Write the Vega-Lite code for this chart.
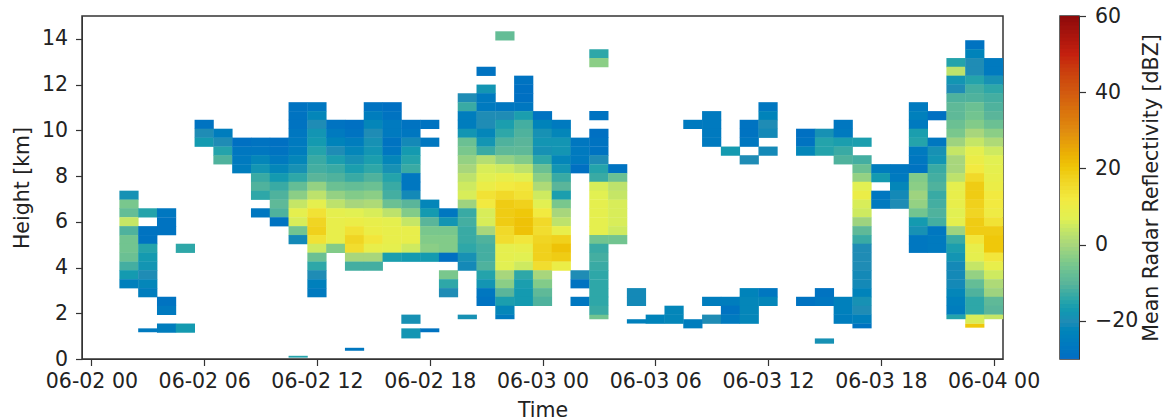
{"$schema":"https://vega.github.io/schema/vega-lite/v6.json","padding":{"left":11,"top":5,"right":0,"bottom":0},"background":"white","config":{"font":"DejaVu Sans","view":{"stroke":"#333","strokeWidth":1.5},"axis":{"labelFont":"DejaVu Sans","titleFont":"DejaVu Sans","labelFontSize":20.5,"titleFontSize":20.5,"labelColor":"#222","titleColor":"#222","titleFontWeight":"normal","tickColor":"#333","domainColor":"#333","tickSize":6.5,"tickWidth":1.2,"labelPadding":8,"grid":false}},"spacing":18,"datasets":{"cells":[
{"t":2,"z":7.16,"v":-19},{"t":2,"z":6.77,"v":-5},{"t":2,"z":6.39,"v":-8},{"t":2,"z":6,"v":4},{"t":2,"z":5.61,"v":-11},{"t":2,"z":5.22,"v":-6},{"t":2,"z":4.84,"v":-6},{"t":2,"z":4.45,"v":-7},{"t":2,"z":4.06,"v":-12},{"t":2,"z":3.68,"v":-17},{"t":2,"z":3.29,"v":-24},
{"t":3,"z":6.39,"v":-15},{"t":3,"z":5.61,"v":-28},{"t":3,"z":5.22,"v":-28},{"t":3,"z":4.84,"v":-15},{"t":3,"z":4.45,"v":-17},{"t":3,"z":4.06,"v":-18},{"t":3,"z":3.68,"v":-20},{"t":3,"z":3.29,"v":-22},{"t":3,"z":2.9,"v":-25},
{"t":4,"z":6.39,"v":-27},{"t":4,"z":6,"v":-28},{"t":4,"z":5.61,"v":-28},{"t":4,"z":2.52,"v":-28},{"t":4,"z":2.13,"v":-26},{"t":4,"z":1.35,"v":-25},
{"t":5,"z":4.84,"v":-14},{"t":5,"z":1.35,"v":-17},
{"t":6,"z":10.26,"v":-28},{"t":6,"z":9.87,"v":-20},{"t":6,"z":9.48,"v":-17},
{"t":7,"z":9.87,"v":-25},{"t":7,"z":9.48,"v":-20},{"t":7,"z":9.09,"v":-15},{"t":7,"z":8.71,"v":-11},
{"t":8,"z":9.48,"v":-29},{"t":8,"z":9.09,"v":-27},{"t":8,"z":8.71,"v":-26},{"t":8,"z":8.32,"v":-25},
{"t":9,"z":9.48,"v":-28},{"t":9,"z":9.09,"v":-27},{"t":9,"z":8.71,"v":-22},{"t":9,"z":8.32,"v":-18},{"t":9,"z":7.93,"v":-13},{"t":9,"z":7.55,"v":-11},{"t":9,"z":7.16,"v":-14},{"t":9,"z":6.39,"v":-27},
{"t":10,"z":9.48,"v":-29},{"t":10,"z":9.09,"v":-28},{"t":10,"z":8.71,"v":-26},{"t":10,"z":8.32,"v":-22},{"t":10,"z":7.93,"v":-17},{"t":10,"z":7.55,"v":-13},{"t":10,"z":7.16,"v":-11},{"t":10,"z":6.77,"v":-9},{"t":10,"z":6.39,"v":-11},{"t":10,"z":6,"v":-28},
{"t":11,"z":11.03,"v":-28},{"t":11,"z":10.64,"v":-28},{"t":11,"z":10.26,"v":-28},{"t":11,"z":9.87,"v":-27},{"t":11,"z":9.48,"v":-26},{"t":11,"z":9.09,"v":-25},{"t":11,"z":8.71,"v":-22},{"t":11,"z":8.32,"v":-19},{"t":11,"z":7.93,"v":-14},{"t":11,"z":7.55,"v":-8},{"t":11,"z":7.16,"v":-3},{"t":11,"z":6.77,"v":4},{"t":11,"z":6.39,"v":8},{"t":11,"z":6,"v":6},{"t":11,"z":5.61,"v":-6},{"t":11,"z":5.22,"v":-21},
{"t":12,"z":11.03,"v":-27},{"t":12,"z":10.64,"v":-22},{"t":12,"z":10.26,"v":-20},{"t":12,"z":9.87,"v":-18},{"t":12,"z":9.48,"v":-17},{"t":12,"z":9.09,"v":-15},{"t":12,"z":8.71,"v":-13},{"t":12,"z":8.32,"v":-12},{"t":12,"z":7.93,"v":-10},{"t":12,"z":7.55,"v":-2},{"t":12,"z":7.16,"v":3},{"t":12,"z":6.77,"v":8},{"t":12,"z":6.39,"v":14},{"t":12,"z":6,"v":17},{"t":12,"z":5.61,"v":18},{"t":12,"z":5.22,"v":14},{"t":12,"z":4.84,"v":5},{"t":12,"z":4.45,"v":-7},{"t":12,"z":4.06,"v":-14},{"t":12,"z":3.68,"v":-20},{"t":12,"z":3.29,"v":-24},{"t":12,"z":2.9,"v":-26},
{"t":13,"z":10.26,"v":-28},{"t":13,"z":9.87,"v":-26},{"t":13,"z":9.48,"v":-23},{"t":13,"z":9.09,"v":-20},{"t":13,"z":8.71,"v":-16},{"t":13,"z":8.32,"v":-13},{"t":13,"z":7.93,"v":-11},{"t":13,"z":7.55,"v":-7},{"t":13,"z":7.16,"v":-2},{"t":13,"z":6.77,"v":3},{"t":13,"z":6.39,"v":8},{"t":13,"z":6,"v":9},{"t":13,"z":5.61,"v":9},{"t":13,"z":5.22,"v":9},{"t":13,"z":4.84,"v":-4},
{"t":14,"z":10.26,"v":-29},{"t":14,"z":9.87,"v":-28},{"t":14,"z":9.48,"v":-25},{"t":14,"z":9.09,"v":-22},{"t":14,"z":8.71,"v":-19},{"t":14,"z":8.32,"v":-16},{"t":14,"z":7.93,"v":-13},{"t":14,"z":7.55,"v":-8},{"t":14,"z":7.16,"v":-4},{"t":14,"z":6.77,"v":0},{"t":14,"z":6.39,"v":7},{"t":14,"z":6,"v":10},{"t":14,"z":5.61,"v":14},{"t":14,"z":5.22,"v":17},{"t":14,"z":4.84,"v":15},{"t":14,"z":4.45,"v":0},{"t":14,"z":4.06,"v":-12},
{"t":15,"z":11.03,"v":-28},{"t":15,"z":10.64,"v":-25},{"t":15,"z":10.26,"v":-22},{"t":15,"z":9.87,"v":-20},{"t":15,"z":9.48,"v":-19},{"t":15,"z":9.09,"v":-18},{"t":15,"z":8.71,"v":-16},{"t":15,"z":8.32,"v":-14},{"t":15,"z":7.93,"v":-11},{"t":15,"z":7.55,"v":-7},{"t":15,"z":7.16,"v":-3},{"t":15,"z":6.77,"v":1},{"t":15,"z":6.39,"v":6},{"t":15,"z":6,"v":9},{"t":15,"z":5.61,"v":10},{"t":15,"z":5.22,"v":13},{"t":15,"z":4.84,"v":9},{"t":15,"z":4.45,"v":0},{"t":15,"z":4.06,"v":-12},
{"t":16,"z":11.03,"v":-29},{"t":16,"z":10.64,"v":-28},{"t":16,"z":10.26,"v":-26},{"t":16,"z":9.87,"v":-26},{"t":16,"z":9.48,"v":-28},{"t":16,"z":9.09,"v":-27},{"t":16,"z":8.71,"v":-22},{"t":16,"z":8.32,"v":-19},{"t":16,"z":7.93,"v":-15},{"t":16,"z":7.55,"v":-13},{"t":16,"z":7.16,"v":-12},{"t":16,"z":6.77,"v":-7},{"t":16,"z":6.39,"v":3},{"t":16,"z":6,"v":8},{"t":16,"z":5.61,"v":9},{"t":16,"z":5.22,"v":9},{"t":16,"z":4.84,"v":8},{"t":16,"z":4.45,"v":-16},
{"t":17,"z":10.26,"v":-28},{"t":17,"z":9.87,"v":-27},{"t":17,"z":9.48,"v":-21},{"t":17,"z":9.09,"v":-17},{"t":17,"z":8.71,"v":-15},{"t":17,"z":8.32,"v":-13},{"t":17,"z":7.93,"v":-27},{"t":17,"z":7.55,"v":-27},{"t":17,"z":7.16,"v":-21},{"t":17,"z":6.77,"v":-10},{"t":17,"z":6.39,"v":-4},{"t":17,"z":6,"v":4},{"t":17,"z":5.61,"v":9},{"t":17,"z":5.22,"v":9},{"t":17,"z":4.84,"v":5},{"t":17,"z":4.45,"v":-17},{"t":17,"z":1.74,"v":-19},
{"t":18,"z":10.26,"v":-28},{"t":18,"z":9.48,"v":-27},{"t":18,"z":6.77,"v":-22},{"t":18,"z":6.39,"v":-17},{"t":18,"z":6,"v":-10},{"t":18,"z":5.61,"v":-5},{"t":18,"z":5.22,"v":-4},{"t":18,"z":4.84,"v":-3},{"t":18,"z":4.45,"v":-17},
{"t":19,"z":6.39,"v":-27},{"t":19,"z":6,"v":-18},{"t":19,"z":5.61,"v":-5},{"t":19,"z":5.22,"v":-4},{"t":19,"z":4.84,"v":-4},{"t":19,"z":4.45,"v":-29},{"t":19,"z":3.68,"v":-5},{"t":19,"z":3.29,"v":-14},{"t":19,"z":2.9,"v":-20},
{"t":20,"z":11.42,"v":-20},{"t":20,"z":11.03,"v":-13},{"t":20,"z":10.64,"v":-25},{"t":20,"z":10.26,"v":-25},{"t":20,"z":9.87,"v":-18},{"t":20,"z":9.48,"v":-7},{"t":20,"z":9.09,"v":-5},{"t":20,"z":8.71,"v":-2},{"t":20,"z":8.32,"v":0},{"t":20,"z":7.93,"v":3},{"t":20,"z":7.55,"v":5},{"t":20,"z":7.16,"v":6},{"t":20,"z":6.77,"v":-1},{"t":20,"z":6.39,"v":-13},{"t":20,"z":6,"v":-12},{"t":20,"z":5.61,"v":-13},{"t":20,"z":5.22,"v":-13},{"t":20,"z":4.84,"v":-14},{"t":20,"z":4.45,"v":-19},{"t":20,"z":4.06,"v":-21},
{"t":21,"z":12.58,"v":-28},{"t":21,"z":11.8,"v":-18},{"t":21,"z":11.42,"v":-26},{"t":21,"z":11.03,"v":-26},{"t":21,"z":10.64,"v":-20},{"t":21,"z":10.26,"v":-20},{"t":21,"z":9.87,"v":-22},{"t":21,"z":9.48,"v":-18},{"t":21,"z":9.09,"v":-13},{"t":21,"z":8.71,"v":2},{"t":21,"z":8.32,"v":6},{"t":21,"z":7.93,"v":7},{"t":21,"z":7.55,"v":10},{"t":21,"z":7.16,"v":14},{"t":21,"z":6.77,"v":12},{"t":21,"z":6.39,"v":6},{"t":21,"z":6,"v":6},{"t":21,"z":5.61,"v":0},{"t":21,"z":5.22,"v":-11},{"t":21,"z":4.84,"v":-12},{"t":21,"z":4.45,"v":-12},{"t":21,"z":4.06,"v":-11},{"t":21,"z":3.68,"v":-15},{"t":21,"z":3.29,"v":-18},{"t":21,"z":2.9,"v":-27},{"t":21,"z":2.52,"v":-28},
{"t":22,"z":14.13,"v":-8},{"t":22,"z":11.03,"v":-27},{"t":22,"z":10.64,"v":-20},{"t":22,"z":10.26,"v":-16},{"t":22,"z":9.87,"v":-14},{"t":22,"z":9.48,"v":-11},{"t":22,"z":9.09,"v":-9},{"t":22,"z":8.71,"v":-2},{"t":22,"z":8.32,"v":5},{"t":22,"z":7.93,"v":9},{"t":22,"z":7.55,"v":12},{"t":22,"z":7.16,"v":16},{"t":22,"z":6.77,"v":19},{"t":22,"z":6.39,"v":19},{"t":22,"z":6,"v":19},{"t":22,"z":5.61,"v":16},{"t":22,"z":5.22,"v":15},{"t":22,"z":4.84,"v":8},{"t":22,"z":4.45,"v":8},{"t":22,"z":4.06,"v":7},{"t":22,"z":3.68,"v":0},{"t":22,"z":3.29,"v":-3},{"t":22,"z":2.9,"v":-10},{"t":22,"z":2.52,"v":-16},{"t":22,"z":2.13,"v":-22},
{"t":23,"z":12.19,"v":-28},{"t":23,"z":11.8,"v":-29},{"t":23,"z":11.42,"v":-29},{"t":23,"z":11.03,"v":-27},{"t":23,"z":10.64,"v":-16},{"t":23,"z":10.26,"v":-12},{"t":23,"z":9.87,"v":-11},{"t":23,"z":9.48,"v":-10},{"t":23,"z":9.09,"v":-9},{"t":23,"z":8.71,"v":-4},{"t":23,"z":8.32,"v":3},{"t":23,"z":7.93,"v":7},{"t":23,"z":7.55,"v":13},{"t":23,"z":7.16,"v":14},{"t":23,"z":6.77,"v":18},{"t":23,"z":6.39,"v":20},{"t":23,"z":6,"v":21},{"t":23,"z":5.61,"v":21},{"t":23,"z":5.22,"v":13},{"t":23,"z":4.84,"v":9},{"t":23,"z":4.45,"v":7},{"t":23,"z":4.06,"v":5},{"t":23,"z":3.68,"v":-14},{"t":23,"z":3.29,"v":-16},{"t":23,"z":2.9,"v":-17},{"t":23,"z":2.52,"v":-17},
{"t":24,"z":10.64,"v":-28},{"t":24,"z":10.26,"v":-23},{"t":24,"z":9.87,"v":-19},{"t":24,"z":9.48,"v":-18},{"t":24,"z":9.09,"v":-19},{"t":24,"z":8.71,"v":-14},{"t":24,"z":8.32,"v":-7},{"t":24,"z":7.93,"v":-3},{"t":24,"z":7.55,"v":1},{"t":24,"z":7.16,"v":5},{"t":24,"z":6.77,"v":7},{"t":24,"z":6.39,"v":12},{"t":24,"z":6,"v":16},{"t":24,"z":5.61,"v":15},{"t":24,"z":5.22,"v":17},{"t":24,"z":4.84,"v":18},{"t":24,"z":4.45,"v":18},{"t":24,"z":4.06,"v":15},{"t":24,"z":3.68,"v":0},{"t":24,"z":3.29,"v":-4},{"t":24,"z":2.9,"v":-9},{"t":24,"z":2.52,"v":-11},
{"t":25,"z":10.26,"v":-26},{"t":25,"z":9.87,"v":-22},{"t":25,"z":9.48,"v":-18},{"t":25,"z":9.09,"v":-18},{"t":25,"z":8.71,"v":-22},{"t":25,"z":8.32,"v":-18},{"t":25,"z":7.93,"v":-13},{"t":25,"z":7.55,"v":-10},{"t":25,"z":7.16,"v":-16},{"t":25,"z":6.77,"v":-5},{"t":25,"z":6.39,"v":0},{"t":25,"z":6,"v":3},{"t":25,"z":5.61,"v":9},{"t":25,"z":5.22,"v":18},{"t":25,"z":4.84,"v":21},{"t":25,"z":4.45,"v":19},{"t":25,"z":4.06,"v":10},
{"t":26,"z":9.48,"v":-27},{"t":26,"z":9.09,"v":-26},{"t":26,"z":8.71,"v":-26},{"t":26,"z":8.32,"v":-29},{"t":26,"z":3.68,"v":-20},{"t":26,"z":3.29,"v":-28},{"t":26,"z":2.52,"v":-27},
{"t":27,"z":13.35,"v":-14},{"t":27,"z":12.96,"v":-3},{"t":27,"z":10.64,"v":-28},{"t":27,"z":9.87,"v":-29},{"t":27,"z":9.48,"v":-28},{"t":27,"z":9.09,"v":-28},{"t":27,"z":8.71,"v":-20},{"t":27,"z":8.32,"v":-15},{"t":27,"z":7.93,"v":-13},{"t":27,"z":7.55,"v":6},{"t":27,"z":7.16,"v":7},{"t":27,"z":6.77,"v":8},{"t":27,"z":6.39,"v":8},{"t":27,"z":6,"v":8},{"t":27,"z":5.61,"v":8},{"t":27,"z":5.22,"v":-6},{"t":27,"z":4.84,"v":-13},{"t":27,"z":4.45,"v":-12},{"t":27,"z":4.06,"v":-13},{"t":27,"z":3.68,"v":-14},{"t":27,"z":3.29,"v":-14},{"t":27,"z":2.9,"v":-14},{"t":27,"z":2.52,"v":-14},{"t":27,"z":2.13,"v":-13},
{"t":28,"z":8.32,"v":-28},{"t":28,"z":7.93,"v":-7},{"t":28,"z":7.55,"v":3},{"t":28,"z":7.16,"v":4},{"t":28,"z":6.77,"v":6},{"t":28,"z":6.39,"v":6},{"t":28,"z":6,"v":6},{"t":28,"z":5.61,"v":5},{"t":28,"z":5.22,"v":-6},
{"t":29,"z":2.9,"v":-21},{"t":29,"z":2.52,"v":-21},
{"t":30,"z":1.74,"v":-23},
{"t":31,"z":2.13,"v":-22},{"t":31,"z":1.74,"v":-22},
{"t":32,"z":10.26,"v":-26},
{"t":33,"z":10.64,"v":-26},{"t":33,"z":10.26,"v":-26},{"t":33,"z":9.87,"v":-26},{"t":33,"z":9.48,"v":-26},{"t":33,"z":2.52,"v":-25},{"t":33,"z":1.74,"v":-20},
{"t":34,"z":9.09,"v":-17},{"t":34,"z":2.52,"v":-25},{"t":34,"z":2.13,"v":-28},{"t":34,"z":1.74,"v":-26},
{"t":35,"z":10.26,"v":-28},{"t":35,"z":9.87,"v":-28},{"t":35,"z":9.48,"v":-27},{"t":35,"z":8.71,"v":-20},{"t":35,"z":2.9,"v":-23},{"t":35,"z":2.52,"v":-22},{"t":35,"z":2.13,"v":-22},{"t":35,"z":1.74,"v":-22},
{"t":36,"z":11.03,"v":-27},{"t":36,"z":10.64,"v":-23},{"t":36,"z":10.26,"v":-20},{"t":36,"z":9.87,"v":-21},{"t":36,"z":9.09,"v":-21},{"t":36,"z":2.9,"v":-27},{"t":36,"z":2.52,"v":-22},
{"t":38,"z":9.87,"v":-29},{"t":38,"z":9.48,"v":-28},{"t":38,"z":9.09,"v":-22},{"t":38,"z":2.52,"v":-28},
{"t":39,"z":9.87,"v":-19},{"t":39,"z":9.48,"v":-15},{"t":39,"z":9.09,"v":-15},{"t":39,"z":2.9,"v":-28},{"t":39,"z":2.52,"v":-27},
{"t":40,"z":10.26,"v":-27},{"t":40,"z":9.87,"v":-26},{"t":40,"z":9.48,"v":-16},{"t":40,"z":9.09,"v":-13},{"t":40,"z":8.71,"v":-11},{"t":40,"z":2.52,"v":-24},{"t":40,"z":2.13,"v":-24},{"t":40,"z":1.74,"v":-25},
{"t":41,"z":9.48,"v":-16},{"t":41,"z":8.71,"v":-12},{"t":41,"z":8.32,"v":-7},{"t":41,"z":7.93,"v":-2},{"t":41,"z":7.55,"v":7},{"t":41,"z":7.16,"v":10},{"t":41,"z":6.77,"v":6},{"t":41,"z":6.39,"v":5},{"t":41,"z":6,"v":-1},{"t":41,"z":5.61,"v":-9},{"t":41,"z":5.22,"v":-13},{"t":41,"z":4.84,"v":-20},{"t":41,"z":4.45,"v":-20},{"t":41,"z":4.06,"v":-20},{"t":41,"z":3.68,"v":-21},{"t":41,"z":3.29,"v":-21},{"t":41,"z":2.9,"v":-23},{"t":41,"z":2.52,"v":-19},{"t":41,"z":2.13,"v":-20},{"t":41,"z":1.74,"v":-24},
{"t":42,"z":8.32,"v":-25},{"t":42,"z":7.93,"v":-17},{"t":42,"z":7.16,"v":-27},{"t":42,"z":6.77,"v":-26},
{"t":43,"z":8.32,"v":-27},{"t":43,"z":7.93,"v":-26},{"t":43,"z":7.55,"v":-22},{"t":43,"z":7.16,"v":-21},{"t":43,"z":6.77,"v":-20},
{"t":44,"z":11.03,"v":-26},{"t":44,"z":10.64,"v":-24},{"t":44,"z":10.26,"v":-26},{"t":44,"z":9.87,"v":-16},{"t":44,"z":9.48,"v":-15},{"t":44,"z":9.09,"v":-26},{"t":44,"z":8.71,"v":-27},{"t":44,"z":8.32,"v":-28},{"t":44,"z":7.93,"v":-4},{"t":44,"z":7.55,"v":-3},{"t":44,"z":7.16,"v":-1},{"t":44,"z":6.77,"v":-2},{"t":44,"z":6.39,"v":-6},{"t":44,"z":6,"v":-17},{"t":44,"z":5.61,"v":-19},{"t":44,"z":5.22,"v":-27},{"t":44,"z":4.84,"v":-27},
{"t":45,"z":10.64,"v":-29},{"t":45,"z":9.48,"v":-27},{"t":45,"z":9.09,"v":-19},{"t":45,"z":8.71,"v":-18},{"t":45,"z":8.32,"v":-13},{"t":45,"z":7.93,"v":-12},{"t":45,"z":7.55,"v":-11},{"t":45,"z":7.16,"v":-13},{"t":45,"z":6.77,"v":-12},{"t":45,"z":6.39,"v":-11},{"t":45,"z":6,"v":-12},{"t":45,"z":5.61,"v":-27},{"t":45,"z":5.22,"v":-26},{"t":45,"z":4.84,"v":-26},
{"t":46,"z":12.96,"v":-15},{"t":46,"z":12.58,"v":3},{"t":46,"z":12.19,"v":-18},{"t":46,"z":11.8,"v":-20},{"t":46,"z":11.42,"v":-11},{"t":46,"z":11.03,"v":-9},{"t":46,"z":10.64,"v":-9},{"t":46,"z":10.26,"v":-7},{"t":46,"z":9.87,"v":-5},{"t":46,"z":9.48,"v":-1},{"t":46,"z":9.09,"v":4},{"t":46,"z":8.71,"v":0},{"t":46,"z":8.32,"v":0},{"t":46,"z":7.93,"v":3},{"t":46,"z":7.55,"v":8},{"t":46,"z":7.16,"v":9},{"t":46,"z":6.77,"v":9},{"t":46,"z":6.39,"v":7},{"t":46,"z":6,"v":8},{"t":46,"z":5.61,"v":-1},{"t":46,"z":5.22,"v":-13},{"t":46,"z":4.84,"v":-16},{"t":46,"z":4.45,"v":-18},{"t":46,"z":4.06,"v":-21},{"t":46,"z":3.68,"v":-21},{"t":46,"z":3.29,"v":-21},{"t":46,"z":2.9,"v":-22},{"t":46,"z":2.52,"v":-24},{"t":46,"z":2.13,"v":-25},
{"t":47,"z":13.74,"v":-28},{"t":47,"z":13.35,"v":-23},{"t":47,"z":12.96,"v":-20},{"t":47,"z":12.58,"v":-20},{"t":47,"z":12.19,"v":-15},{"t":47,"z":11.8,"v":-12},{"t":47,"z":11.42,"v":-11},{"t":47,"z":11.03,"v":-7},{"t":47,"z":10.64,"v":-6},{"t":47,"z":10.26,"v":-4},{"t":47,"z":9.87,"v":0},{"t":47,"z":9.48,"v":4},{"t":47,"z":9.09,"v":8},{"t":47,"z":8.71,"v":10},{"t":47,"z":8.32,"v":12},{"t":47,"z":7.93,"v":16},{"t":47,"z":7.55,"v":19},{"t":47,"z":7.16,"v":19},{"t":47,"z":6.77,"v":18},{"t":47,"z":6.39,"v":17},{"t":47,"z":6,"v":19},{"t":47,"z":5.61,"v":19},{"t":47,"z":5.22,"v":13},{"t":47,"z":4.84,"v":9},{"t":47,"z":4.45,"v":8},{"t":47,"z":4.06,"v":4},{"t":47,"z":3.68,"v":-2},{"t":47,"z":3.29,"v":-8},{"t":47,"z":2.9,"v":-11},{"t":47,"z":2.52,"v":-14},{"t":47,"z":2.13,"v":-14},{"t":47,"z":1.74,"v":6},
{"t":48,"z":12.96,"v":-26},{"t":48,"z":12.58,"v":-26},{"t":48,"z":12.19,"v":-19},{"t":48,"z":11.8,"v":-14},{"t":48,"z":11.42,"v":-12},{"t":48,"z":11.03,"v":-11},{"t":48,"z":10.64,"v":-10},{"t":48,"z":10.26,"v":-7},{"t":48,"z":9.87,"v":-3},{"t":48,"z":9.48,"v":1},{"t":48,"z":9.09,"v":5},{"t":48,"z":8.71,"v":7},{"t":48,"z":8.32,"v":8},{"t":48,"z":7.93,"v":9},{"t":48,"z":7.55,"v":10},{"t":48,"z":7.16,"v":12},{"t":48,"z":6.77,"v":12},{"t":48,"z":6.39,"v":11},{"t":48,"z":6,"v":14},{"t":48,"z":5.61,"v":19},{"t":48,"z":5.22,"v":20},{"t":48,"z":4.84,"v":20},{"t":48,"z":4.45,"v":13},{"t":48,"z":4.06,"v":9},{"t":48,"z":3.68,"v":5},{"t":48,"z":3.29,"v":1},{"t":48,"z":2.9,"v":-1},{"t":48,"z":2.52,"v":-9},{"t":48,"z":2.13,"v":-10}
],"thin":[
{"t":3,"z":1.17,"z2":1.34,"v":-26},{"t":11,"z":0.06,"z2":0.14,"v":-15},{"t":14,"z":0.36,"z2":0.49,"v":-27},{"t":17,"z":0.9,"z2":1.34,"v":-18},{"t":18,"z":1.17,"z2":1.34,"v":-28},{"t":20,"z":1.74,"z2":1.94,"v":-19},{"t":22,"z":1.74,"z2":1.94,"v":-26},{"t":27,"z":1.74,"z2":1.94,"v":-6},{"t":29,"z":1.55,"z2":1.74,"v":-24},{"t":32,"z":1.34,"z2":1.74,"v":-25},{"t":39,"z":0.67,"z2":0.9,"v":-19},{"t":41,"z":1.34,"z2":1.55,"v":-28},{"t":46,"z":1.74,"z2":1.94,"v":-15},{"t":47,"z":1.37,"z2":1.54,"v":20},{"t":48,"z":1.74,"z2":1.94,"v":4}
],"bar":[{"v":-30},{"v":-29},{"v":-28},{"v":-27},{"v":-26},{"v":-25},{"v":-24},{"v":-23},{"v":-22},{"v":-21},{"v":-20},{"v":-19},{"v":-18},{"v":-17},{"v":-16},{"v":-15},{"v":-14},{"v":-13},{"v":-12},{"v":-11},{"v":-10},{"v":-9},{"v":-8},{"v":-7},{"v":-6},{"v":-5},{"v":-4},{"v":-3},{"v":-2},{"v":-1},{"v":0},{"v":1},{"v":2},{"v":3},{"v":4},{"v":5},{"v":6},{"v":7},{"v":8},{"v":9},{"v":10},{"v":11},{"v":12},{"v":13},{"v":14},{"v":15},{"v":16},{"v":17},{"v":18},{"v":19},{"v":20},{"v":21},{"v":22},{"v":23},{"v":24},{"v":25},{"v":26},{"v":27},{"v":28},{"v":29},{"v":30},{"v":31},{"v":32},{"v":33},{"v":34},{"v":35},{"v":36},{"v":37},{"v":38},{"v":39},{"v":40},{"v":41},{"v":42},{"v":43},{"v":44},{"v":45},{"v":46},{"v":47},{"v":48},{"v":49},{"v":50},{"v":51},{"v":52},{"v":53},{"v":54},{"v":55},{"v":56},{"v":57},{"v":58},{"v":59},{"v":60}]},
"hconcat":[{"width":921,"height":343,"encoding":{"x":{"field":"t","type":"quantitative","scale":{"domain":[-0.5,48.5],"nice":false,"zero":false},"axis":{"values":[0,6,12,18,24,30,36,42,48],"title":"Time","labelExpr":"'06-0'+(2+floor(datum.value/24))+' '+(datum.value%24<10?'0':'')+(datum.value%24)","labelFlush":false,"labelOverlap":false,"labelPadding":6,"titlePadding":8}},"color":{"field":"v","type":"quantitative","legend":null,"scale":{"domain":[-30,-20,-10,0,7,12,20,30,40,50,60],"range":["#0b6cc2","#1f8cb5","#5ab59a","#a8d67c","#e2f052","#f2ea40","#efc80a","#e08c10","#d25a10","#c4200f","#8e0a0a"]}}},"layer":[{"data":{"name":"cells"},"mark":{"type":"rect","width":19.2,"height":9.2},"encoding":{"y":{"field":"z","type":"quantitative","scale":{"domain":[0,15],"nice":false,"zero":false},"axis":{"values":[0,2,4,6,8,10,12,14],"title":"Height [km]","titlePadding":9}}}},{"data":{"name":"thin"},"mark":{"type":"rect","width":19.2},"encoding":{"y":{"field":"z","type":"quantitative"},"y2":{"field":"z2"}}}]},
{"width":19,"height":343,"data":{"name":"bar"},"mark":{"type":"rect","height":4.6,"clip":true},"encoding":{"y":{"field":"v","type":"quantitative","scale":{"domain":[-30,60],"nice":false,"zero":false},"axis":{"orient":"right","values":[-20,0,20,40,60],"labelPadding":9,"title":"Mean Radar Reflectivity [dBZ]","titleAngle":270,"titleBaseline":"bottom","titlePadding":24}},"color":{"field":"v","type":"quantitative","legend":null,"scale":{"domain":[-30,-20,-10,0,7,12,20,30,40,50,60],"range":["#0b6cc2","#1f8cb5","#5ab59a","#a8d67c","#e2f052","#f2ea40","#efc80a","#e08c10","#d25a10","#c4200f","#8e0a0a"]}}}}]}
